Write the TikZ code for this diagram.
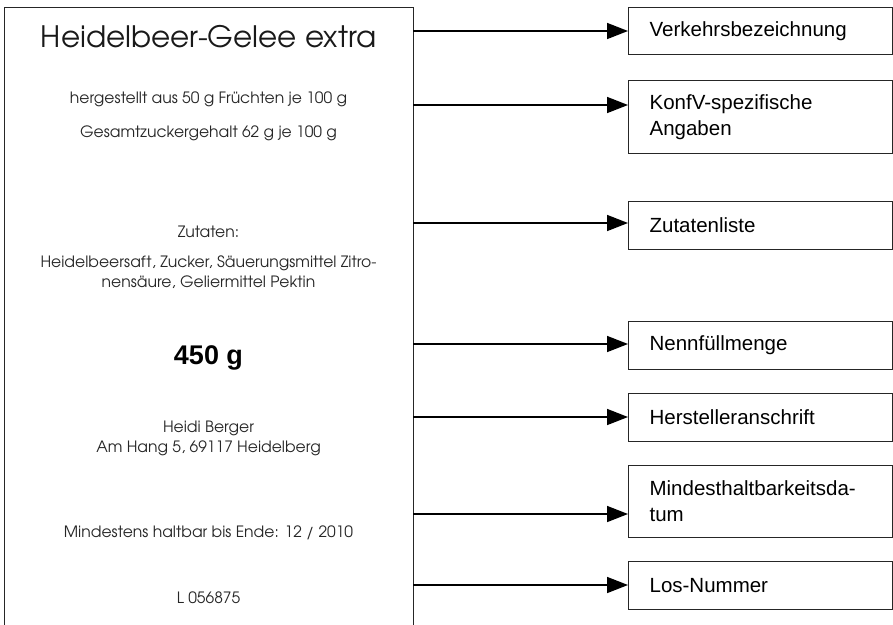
\documentclass[tikz,border=0pt]{standalone}
\usepackage{fontspec}
\setmainfont{Liberation Sans}
\newfontfamily\cg{TeX Gyre Adventor}
\newfontfamily\rf{Liberation Sans}
\usetikzlibrary{arrows.meta}
\tikzset{
  lbox/.style={draw=black!85, line width=1.2pt, anchor=north west, minimum width=409pt, minimum height=660pt, inner sep=0pt},
  lt/.style={anchor=base, inner sep=0pt, font=\cg\fontsize{15.6}{19}\selectfont, text=black!85},
  ttl/.style={anchor=base, inner sep=0pt, font=\cg\fontsize{29.5}{34}\selectfont, text=black!90},
  big/.style={anchor=base, inner sep=0pt, font=\rf\bfseries\fontsize{27}{32}\selectfont},
  rbox/.style={draw=black!85, line width=1.2pt, anchor=north west, minimum width=264pt, text width=222pt, inner xsep=21pt, inner ysep=0pt, align=left, font=\rf\fontsize{20.5}{26}\selectfont},
  arr/.style={line width=1.6pt, -{Triangle[length=21pt,width=16pt]}}
}
\begin{document}
\begin{tikzpicture}[x=1pt,y=-1pt]
\useasboundingbox (0,0) rectangle (893,624);
\node[lbox] (lbl) at (4,7) {};
\node[ttl] (t1) at (208.5,47) {Heidelbeer-Gelee extra};
\node[lt] (t2) at (208.5,103) {hergestellt aus 50 g Früchten je 100 g};
\node[lt] (t3) at (208.5,137) {Gesamtzuckergehalt 62 g je 100 g};
\node[lt] (t4) at (208.5,237) {Zutaten:};
\node[lt] (t5) at (208.5,267) {Heidelbeersaft, Zucker, Säuerungsmittel Zitro-};
\node[lt] (t6) at (208.5,287) {nensäure, Geliermittel Pektin};
\node[big] (t7) at (208.5,364) {450 g};
\node[lt] (t8) at (208.5,432) {Heidi Berger};
\node[lt] (t9) at (208.5,452) {Am Hang 5, 69117 Heidelberg};
\node[lt] (t10) at (208.5,537) {Mindestens haltbar bis Ende: 12 / 2010};
\node[lt] (t11) at (208.5,603) {L 056875};

\node[rbox, minimum height=47pt] (b1) at (628,7) {Verkehrsbezeichnung};
\node[rbox, minimum height=73pt] (b2) at (628,80) {KonfV-spezifische\\Angaben};
\node[rbox, minimum height=48pt] (b3) at (628,201) {Zutatenliste};
\node[rbox, minimum height=48pt] (b4) at (628,321) {Nennfüllmenge};
\node[rbox, minimum height=48pt] (b5) at (628,393) {Herstelleranschrift};
\node[rbox, minimum height=72pt] (b6) at (628,465) {Mindesthaltbarkeitsda-\\tum};
\node[rbox, minimum height=48pt] (b7) at (628,561) {Los-Nummer};

\coordinate (s1) at (413,31);
\coordinate (s2) at (413,105);
\coordinate (s3) at (413,223);
\coordinate (s4) at (413,344);
\coordinate (s5) at (413,417);
\coordinate (s6) at (413,514);
\coordinate (s7) at (413,585);
\draw[arr] (s1) -- (s1 -| b1.west);
\draw[arr] (s2) -- (s2 -| b2.west);
\draw[arr] (s3) -- (s3 -| b3.west);
\draw[arr] (s4) -- (s4 -| b4.west);
\draw[arr] (s5) -- (s5 -| b5.west);
\draw[arr] (s6) -- (s6 -| b6.west);
\draw[arr] (s7) -- (s7 -| b7.west);
\end{tikzpicture}
\end{document}
